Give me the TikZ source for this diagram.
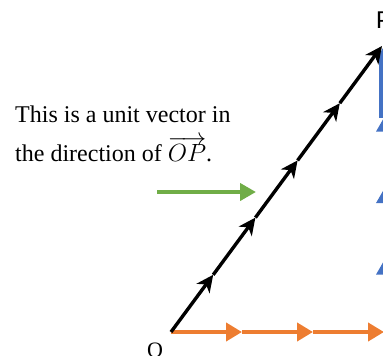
\documentclass[tikz,border=0pt]{standalone}
\usepackage{fontspec}
\setmainfont{Liberation Serif}
\newfontfamily\calibfont{Carlito}
\usetikzlibrary{arrows.meta,calc}
\definecolor{vorange}{HTML}{ED7D31}
\definecolor{vblue}{HTML}{4472C4}
\definecolor{vgreen}{HTML}{70AD47}
\tikzset{
  unitk/.style={line width=3.4pt,black,-{Stealth[length=17pt,width=16pt,inset=5pt]}},
  unito/.style={line width=4pt,vorange,-{Triangle[length=16pt,width=18pt]}},
  unitb/.style={line width=3pt,vblue,-{Triangle[length=14pt,width=15pt]}},
  pointer/.style={line width=4pt,vgreen,-{Triangle[length=16pt,width=17pt]}},
  lbl/.style={anchor=base west,inner sep=0pt},
  every picture/.style={line cap=butt,line join=miter}}

\begin{document}
\begin{tikzpicture}[x=1pt,y=-1pt]
  \useasboundingbox (0,0) rectangle (383,356);
  \coordinate (O) at (171,332); \coordinate (P) at (382,46); \coordinate (F) at (384,332); \coordinate (T) at (384,46);
  % points one unit apart
  \foreach \i in {0,...,5} \coordinate (k\i) at ($(O)!\i/5!(P)$);
  \foreach \i in {0,...,3} \coordinate (o\i) at ($(O)!\i/3!(F)$);
  \foreach \i in {0,...,4} \coordinate (b\i) at ($(F)!\i/4!(T)$);
  \foreach \i [count=\j] in {0,...,2} \draw[unito] (o\i)--(o\j);
  \foreach \i [count=\j] in {0,...,2} \draw[unitb] (b\i)--(b\j);
  \draw[unitb,line width=10pt] (b3)--(b4);
  \foreach \i [count=\j] in {0,...,4} \draw[unitk] (k\i)--(k\j);
  \coordinate (g0) at (157,192); \coordinate (g1) at (256,192); \draw[pointer] (g0)--(g1);
  \node[lbl,font=\fontsize{22}{26}\selectfont] (Olab) at (147,357) {O};
  \node[lbl,font=\calibfont\fontsize{26}{30}\selectfont] (Plab) at (376,28) {P};
  \node[lbl,font=\fontsize{24}{28}\selectfont] (line1) at (15,122) {This is a unit vector in};
  \node[lbl,font=\fontsize{24}{28}\selectfont] (line2) at (15,161) {the direction of $\overrightarrow{OP}$.};
\end{tikzpicture}
\end{document}
